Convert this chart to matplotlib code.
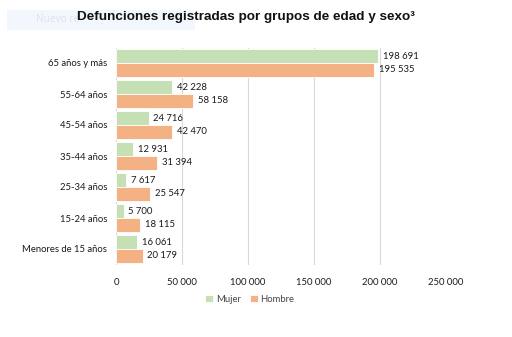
import numpy as np
import matplotlib.pyplot as plt
from matplotlib.patches import Rectangle

# data (top to bottom)
age_groups = ['65 años y más', '55-64 años', '45-54 años', '35-44 años',
              '25-34 años', '15-24 años', 'Menores de 15 años']
mujer = [198691, 42228, 24716, 12931, 7617, 5700, 16061]
hombre = [195535, 58158, 42470, 31394, 25547, 18115, 20179]
x_ticks = [0, 50000, 100000, 150000, 200000, 250000]

GREEN = '#c5e0b4'
ORANGE = '#f4b183'
LABEL_FONT = 'Lato'
FS = 6.8


def fmt(v):
    return f"{v:,}".replace(',', ' ')


fig = plt.figure(figsize=(5.12, 3.37), dpi=100)

# faint watermark box behind the title
fig.patches.append(Rectangle((7 / 512, 1 - 30 / 337), 188 / 512, 20 / 337,
                             transform=fig.transFigure, facecolor='#f2f7fd',
                             edgecolor='none', zorder=0))
fig.text(36 / 512, 1 - 20 / 337, 'Nuevo re', fontsize=7.3, color='#dde3ea',
         family='Open Sans', va='center', ha='left', zorder=1)

fig.text(246 / 512, 1 - 17 / 337, 'Defunciones registradas por grupos de edad y sexo³',
         fontsize=9.7, fontweight='bold', family='Liberation Sans',
         ha='center', va='center', color='#111111', zorder=2)

ax = fig.add_axes([116 / 512, 1 - 264.5 / 337, 330 / 512, 217 / 337])

y = np.arange(len(age_groups))
h = 0.45
ax.barh(y - h / 2, mujer, height=h, color=GREEN, edgecolor='white', linewidth=0.6,
        label='Mujer', zorder=3)
ax.barh(y + h / 2, hombre, height=h, color=ORANGE, edgecolor='white', linewidth=0.6,
        label='Hombre', zorder=3)

for yi, m, hm in zip(y, mujer, hombre):
    ax.annotate(fmt(m), (m, yi - h / 2), xytext=(3.5, 0), textcoords='offset points',
                va='center', ha='left', fontsize=FS, family=LABEL_FONT, color='#1a1a1a')
    ax.annotate(fmt(hm), (hm, yi + h / 2), xytext=(3.5, 0), textcoords='offset points',
                va='center', ha='left', fontsize=FS, family=LABEL_FONT, color='#1a1a1a')

ax.set_xlim(0, 250000)
ax.set_ylim(len(age_groups) - 0.5, -0.5)
ax.set_xticks(x_ticks)
ax.set_xticklabels([fmt(t) for t in x_ticks], family=LABEL_FONT, fontsize=FS, color='#1a1a1a')
ax.set_yticks(y)
ax.set_yticklabels(age_groups, family=LABEL_FONT, fontsize=FS, color='#1a1a1a')
ax.tick_params(axis='both', length=0)
ax.tick_params(axis='x', pad=9.5)
ax.tick_params(axis='y', pad=6.5)
for s in ax.spines.values():
    s.set_visible(False)
ax.grid(axis='x', color='#d9d9d9', linewidth=0.8, zorder=0)
ax.set_axisbelow(True)

ax.legend(loc='center', bbox_to_anchor=(250 / 512, 1 - 299 / 337),
          bbox_transform=fig.transFigure, ncol=2, frameon=False,
          prop={'family': LABEL_FONT, 'size': FS}, handlelength=0.8,
          handleheight=0.8, handletextpad=0.3, columnspacing=1.0)
for t in ax.get_legend().get_texts():
    t.set_color('#444444')

fig.savefig('out.png', dpi=100)
